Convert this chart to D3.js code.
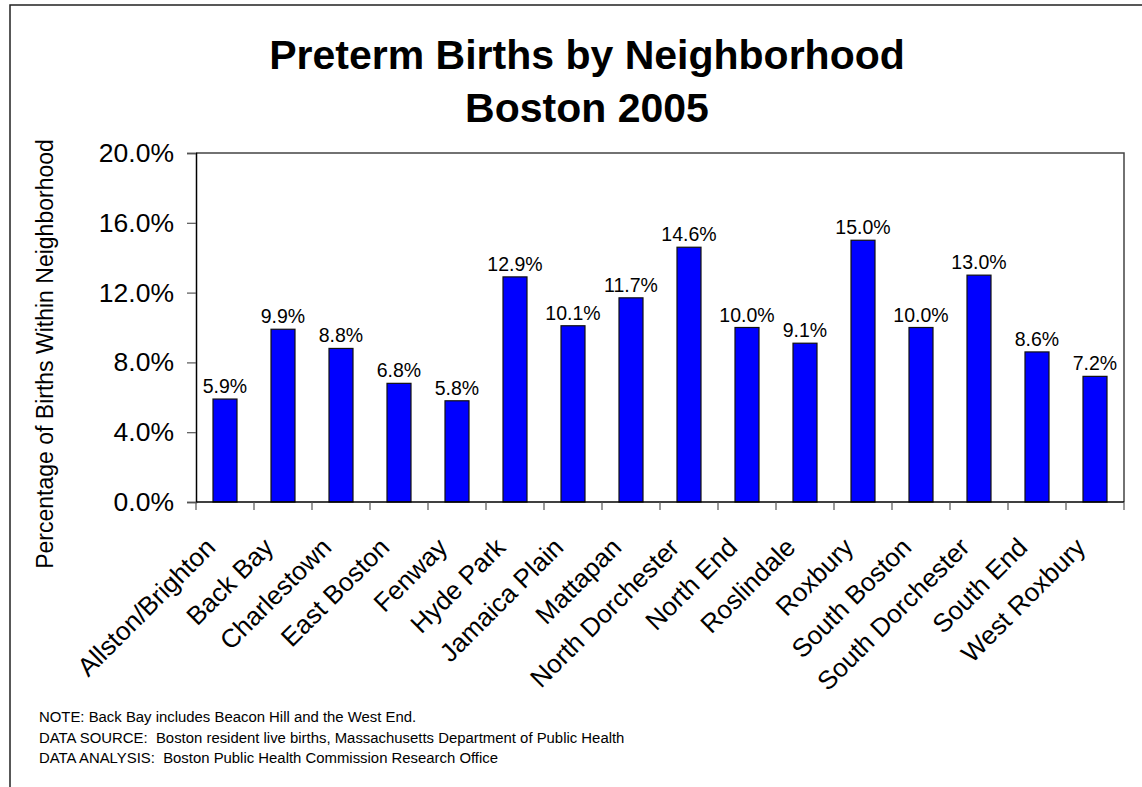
<!DOCTYPE html>
<html>
<head>
<meta charset="utf-8">
<script src="https://cdn.jsdelivr.net/npm/d3@7"></script>
<style>
  html, body { margin: 0; padding: 0; background: #fff; }
  svg { display: block; font-family: "Liberation Sans", Arial, sans-serif; }
</style>
</head>
<body>
<div id="chart"></div>
<script>
// neighborhoods and % preterm births
var neighborhoods = ["Allston/Brighton", "Back Bay", "Charlestown", "East Boston", "Fenway",
  "Hyde Park", "Jamaica Plain", "Mattapan", "North Dorchester", "North End", "Roslindale",
  "Roxbury", "South Boston", "South Dorchester", "South End", "West Roxbury"];
var pretermPct = [5.9, 9.9, 8.8, 6.8, 5.8, 12.9, 10.1, 11.7, 14.6, 10.0, 9.1, 15.0, 10.0, 13.0, 8.6, 7.2];
var yTicks = [0, 4, 8, 12, 16, 20];
var titleLines = ["Preterm Births by Neighborhood", "Boston 2005"];
var yTitle = "Percentage of Births Within Neighborhood";
var notes = [
  "NOTE: Back Bay includes Beacon Hill and the West End.",
  "DATA SOURCE:  Boston resident live births, Massachusetts Department of Public Health",
  "DATA ANALYSIS:  Boston Public Health Commission Research Office"
];

var width = 1142, height = 787;
var plot = {left: 196, right: 1124, top: 153, bottom: 502};

var svg = d3.select("#chart").append("svg")
  .attr("width", width)
  .attr("height", height);

// outer frame (cut off at right and bottom like the original)
svg.append("rect")
  .attr("x", 10).attr("y", 5)
  .attr("width", width + 20).attr("height", height + 20)
  .attr("fill", "#fff")
  .attr("stroke", "#222")
  .attr("stroke-width", 1.5);

var x = d3.scaleBand()
  .domain(neighborhoods)
  .range([plot.left, plot.right])
  .paddingInner(34 / 58)
  .paddingOuter(17 / 58);

var y = d3.scaleLinear()
  .domain([0, 20])
  .range([plot.bottom, plot.top]);

// plot area border (top + right)
svg.append("path")
  .attr("d", "M" + plot.left + "," + plot.top + "H" + plot.right + "V" + plot.bottom)
  .attr("fill", "none")
  .attr("stroke", "#444")
  .attr("stroke-width", 1.5);

// bars
svg.append("g").selectAll("rect")
  .data(pretermPct)
  .enter()
  .append("rect")
  .attr("x", function(d, i) { return x(neighborhoods[i]); })
  .attr("y", function(d) { return y(d); })
  .attr("width", x.bandwidth())
  .attr("height", function(d) { return y(0) - y(d); })
  .attr("fill", "#0000ff")
  .attr("stroke", "#111")
  .attr("stroke-width", 1.2);

// value labels
svg.append("g").selectAll("text")
  .data(pretermPct)
  .enter()
  .append("text")
  .attr("x", function(d, i) { return x(neighborhoods[i]) + x.bandwidth() / 2; })
  .attr("y", function(d) { return y(d) - 6; })
  .attr("text-anchor", "middle")
  .style("font-size", "19.5px")
  .text(function(d) { return d3.format(".1f")(d) + "%"; });

// y axis
var yAxis = svg.append("g")
  .attr("transform", "translate(" + plot.left + ",0)")
  .call(d3.axisLeft(y)
    .tickValues(yTicks)
    .tickSize(9)
    .tickPadding(13)
    .tickFormat(function(d) { return d3.format(".1f")(d) + "%"; }));
yAxis.select(".domain").attr("stroke", "#000").attr("stroke-width", 1.5);
yAxis.selectAll(".tick line").attr("stroke", "#555").attr("stroke-width", 1.2);
yAxis.selectAll("text")
  .style("font-size", "26.5px")
  .style("font-family", "'Liberation Sans', Arial, sans-serif")
  .attr("fill", "#000");

// x axis line + category boundary ticks
svg.append("line")
  .attr("x1", plot.left).attr("x2", plot.right)
  .attr("y1", plot.bottom).attr("y2", plot.bottom)
  .attr("stroke", "#000")
  .attr("stroke-width", 1.5);

svg.append("g").selectAll("line")
  .data(d3.range(neighborhoods.length + 1))
  .enter()
  .append("line")
  .attr("x1", function(i) { return plot.left + i * x.step(); })
  .attr("x2", function(i) { return plot.left + i * x.step(); })
  .attr("y1", plot.bottom)
  .attr("y2", plot.bottom + 8)
  .attr("stroke", "#555")
  .attr("stroke-width", 1.2);

// rotated category labels
svg.append("g").selectAll("text")
  .data(neighborhoods)
  .enter()
  .append("text")
  .attr("transform", function(d) {
    var cx = x(d) + x.bandwidth() / 2;
    return "translate(" + (cx - 8) + "," + (plot.bottom + 47) + ") rotate(-45)";
  })
  .attr("text-anchor", "end")
  .style("font-size", "26px")
  .text(function(d) { return d; });

// y title
svg.append("text")
  .attr("transform", "translate(53,354) rotate(-90)")
  .attr("text-anchor", "middle")
  .style("font-size", "23px")
  .text(yTitle);

// title
svg.append("g").selectAll("text")
  .data(titleLines)
  .enter()
  .append("text")
  .attr("x", 587)
  .attr("y", function(d, i) { return 69 + i * 53; })
  .attr("text-anchor", "middle")
  .style("font-size", "41px")
  .style("font-weight", "bold")
  .text(function(d) { return d; });

// footer notes
svg.append("g").selectAll("text")
  .data(notes)
  .enter()
  .append("text")
  .attr("x", 39)
  .attr("y", function(d, i) { return 722 + i * 20.5; })
  .style("font-size", "14.9px")
  .style("white-space", "pre")
  .text(function(d) { return d; });
</script>
</body>
</html>
